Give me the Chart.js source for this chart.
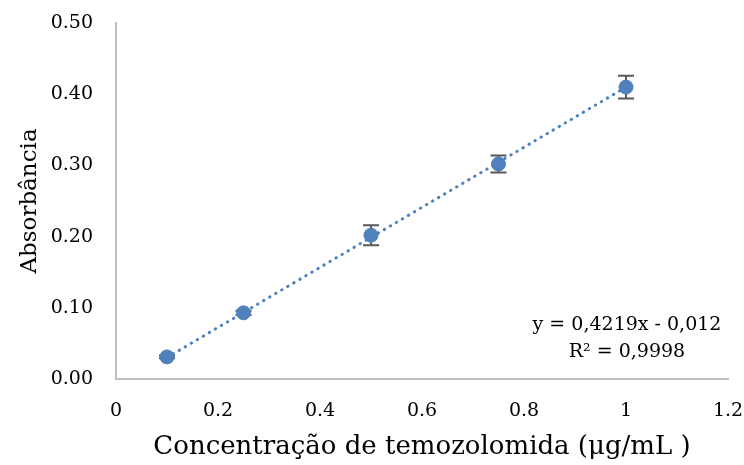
<!DOCTYPE html>
<html>
<head>
<meta charset="utf-8">
<script src="https://cdn.jsdelivr.net/npm/chart.js@4.4.1/dist/chart.umd.min.js"></script>
<style>
	html, body { margin: 0; padding: 0; background: #fff; }
	#wrap { width: 744px; height: 465px; }
</style>
</head>
<body>
<div id="wrap"><canvas id="canvas" width="744" height="465"></canvas></div>
<script>
// concentrations (µg/mL) and absorbance readings
const concentrations = [0.1, 0.25, 0.5, 0.75, 1.0];
const absorbance = [0.031, 0.093, 0.202, 0.302, 0.410];
const errors = [0.002, 0.003, 0.014, 0.012, 0.016];

// linear trendline as printed on the chart
const slope = 0.4219;
const intercept = -0.012;
const trendX = [0.1, 1.0];
const equationLines = ["y = 0,4219x - 0,012", "R\u00b2 = 0,9998"];

const blue = "#4f81bd";
const serif = "'DejaVu Serif', serif";

window.onload = () => {
	const ctx = document.getElementById("canvas").getContext("2d");

	const errorBars = {
		id: "errorBars",
		beforeDatasetsDraw(chart) {
			const c = chart.ctx;
			const xs = chart.scales.x;
			const ys = chart.scales.y;
			c.save();
			c.strokeStyle = "#595959";
			c.lineWidth = 2;
			concentrations.forEach((x, i) => {
				const px = xs.getPixelForValue(x);
				const top = ys.getPixelForValue(absorbance[i] + errors[i]);
				const bot = ys.getPixelForValue(absorbance[i] - errors[i]);
				c.beginPath();
				c.moveTo(px, top); c.lineTo(px, bot);
				c.moveTo(px - 8, top); c.lineTo(px + 8, top);
				c.moveTo(px - 8, bot); c.lineTo(px + 8, bot);
				c.stroke();
			});
			c.restore();
		},
		afterDraw(chart) {
			const c = chart.ctx;
			c.save();
			c.fillStyle = "#000";
			c.font = "19px " + serif;
			c.textAlign = "center";
			c.textBaseline = "alphabetic";
			c.fillText(equationLines[0], 627, 330);
			c.fillText(equationLines[1], 627, 357);
			c.restore();
		},
	};

	const config = {
		type: "scatter",
		data: {
			datasets: [
				{
					label: "Absorbância",
					data: concentrations.map((x, i) => ({ x: x, y: absorbance[i] })),
					backgroundColor: blue,
					borderColor: blue,
					pointRadius: 7,
					pointHoverRadius: 7,
					order: 0,
				},
				{
					label: "Linear",
					type: "line",
					data: trendX.map(x => ({ x: x, y: slope * x + intercept })),
					borderColor: blue,
					borderWidth: 3,
					borderDash: [0.5, 6.5],
					borderCapStyle: "round",
					pointRadius: 0,
					fill: false,
					order: 1,
				},
			],
		},
		options: {
			responsive: false,
			animation: false,
			layout: { padding: { top: 23, right: 16, left: 0, bottom: 0 } },
			plugins: {
				legend: { display: false },
				tooltip: { enabled: false },
			},
			scales: {
				x: {
					type: "linear",
					min: 0,
					max: 1.2,
					afterFit: (scale) => {
						scale.height = 86;
						scale.paddingLeft = 0;
						scale.paddingRight = 0;
					},
					grid: { display: false, drawTicks: false },
					border: { color: "#bfbfbf", width: 2 },
					ticks: {
						stepSize: 0.2,
						padding: 21,
						color: "#000",
						font: { family: serif, size: 19 },
						callback: (v) => String(parseFloat(v.toFixed(1))),
					},
					title: {
						display: true,
						text: "Concentração de temozolomida (μg/mL )",
						color: "#000",
						font: { family: serif, size: 26 },
						padding: { top: 0, bottom: 2 },
					},
				},
				y: {
					min: 0,
					max: 0.5,
					afterFit: (scale) => {
						scale.width = 116;
						scale.paddingTop = 0;
						scale.paddingBottom = 0;
					},
					grid: { display: false, drawTicks: false },
					border: { color: "#bfbfbf", width: 2 },
					ticks: {
						stepSize: 0.1,
						padding: 23,
						color: "#000",
						font: { family: serif, size: 19 },
						callback: (v) => v.toFixed(2),
					},
					title: {
						display: true,
						text: "Absorbância",
						color: "#000",
						font: { family: serif, size: 23 },
						padding: { top: 16, bottom: 0 },
					},
				},
			},
		},
		plugins: [errorBars],
	};

	new Chart(ctx, config);
};
</script>
</body>
</html>
